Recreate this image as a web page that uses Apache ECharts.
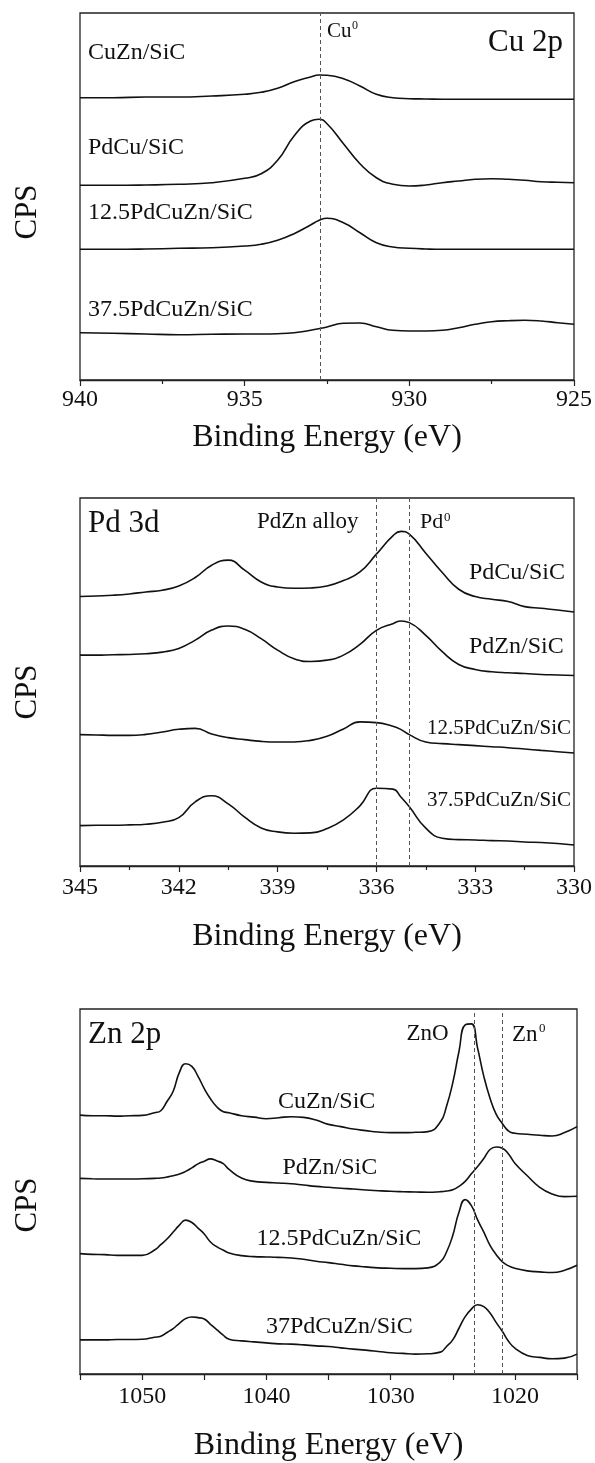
<!DOCTYPE html>
<html><head><meta charset="utf-8">
<script src="https://cdn.jsdelivr.net/npm/echarts@6/dist/echarts.min.js"></script>
<style>html,body{margin:0;padding:0;background:#fff}#c{width:595px;height:1463px}</style>
</head><body><div id="c"></div>
<script>
// ---------- Cu 2p panel ----------
const cuEnergy = [940,939,938,937,936,935,934.5,934,933.5,933,932.75,932.5,932,931.5,931,930.5,930,929.5,929,928.5,928,927.5,927,926.5,926,925.5,925];
const cuCuZn   = [282.3,282.3,283,283,284,285.7,287.7,291.7,298.3,303,305,304.7,301.3,294,285.7,282.3,281.3,281,280.7,280.7,280.7,280.7,280.7,280.7,280.7,280.7,280.7];
const cuPdCu   = [194.7,194.7,195,195.7,197.3,201.7,206.3,219.7,244,259,260.7,256.3,236.3,216.3,202.3,195.7,194,195,197.3,199,200.7,201.3,200.7,199.7,198.3,197.7,197.3];
const cu125    = [130.7,130.7,131,131.7,132.3,134,135.7,139.7,146.3,155,159.5,161.7,157.3,147.3,137.3,133,131.7,131,130.7,130.7,130.7,130.7,130.7,130.7,130.7,130.7,130.7];
const cu375    = [47.3,46.7,46,45.3,45.7,46,46,46.3,47.3,49.7,51.3,53,56.7,57,53.3,49.7,49,49,49.7,52.3,55.7,58.3,59.3,59.7,59,57.3,55.7];
const cuRefLines = [932.7];

// ---------- Pd 3d panel ----------
const pdEnergy = [345,344.5,344,343.5,343,342.5,342,341.5,341,340.5,340,339.5,339,338.5,338,337.5,337,336.5,336,335.5,335.25,335,334.5,334,333.5,333,332.5,332,331.5,331,330.5,330];
const pdPdCu   = [268.7,269.3,270,271.3,273.3,275,279.3,287.7,300,305,295,283.3,278.3,277,277.3,279.3,284.7,293.3,311,329.3,333.7,331,312,292.7,276,268.7,266,263.7,258.7,257,255.3,253.3];
const pdPdZn   = [210.3,210.3,210.7,211,211.7,213.3,217,225.3,235.3,239.3,236,226.7,215.3,206.7,204,205.3,210.3,221,235,241.7,244.3,242.7,230,213.7,201,196,193.7,192.7,192,191,190.5,190];
const pd125    = [131,130.7,130.3,130.3,131.3,133.7,136.3,137.3,131.7,128,126,124.3,123.7,123.7,125.3,129.3,136.7,143.7,143,139.3,136,131,123.7,122,121,120,119,118,116.7,115.3,114,112.7];
const pd375    = [40.3,40.7,40.7,41,41.7,43.7,48.3,64,70,62,48.7,38,34,32.7,33,37.3,46,60,77.5,76.7,68.5,59,37.7,27.7,26.3,26,25.3,25,24,23.5,22.5,21];
const pdRefLines = [336.0, 335.0];

// ---------- Zn 2p panel ----------
const znEnergy = [1055,1054,1053,1052,1051,1050,1049,
                  1048.5,1048,1047.5,1047,1046.5,1046,1045.5,1045,1044.5,1044,1043.5,1043,
                  1042,1041,1040,1039,1038,1037,1036,1035,1034,1033,1032,1031,1030,1029,1028,1027,
                  1026,1025.5,1025,1024.5,1024,1023.5,1023,1022.5,1022,1021.5,1021,1020.5,1020,
                  1019,1018,1017,1016,1015];
const znCuZn = [260.3,259.7,259.7,259.3,259.7,260,262.7,
                264.7,274,284.3,303.3,312,309.3,299.3,287,276.7,268.7,264,262.7,
                259.7,258.3,256.7,257.7,258.7,258,255.3,251,248.7,246.3,244.7,243.3,242.7,242.7,243,243.7,
                253.3,269.3,292.7,324.3,351,352,327.7,299.3,277.3,261,251.7,244.3,242,
                241,240,239.3,242.7,248.7];
const znPdZn = [196.7,196.3,196,196,196,196.3,196.7,
                197,198,199.3,201,203.7,207.3,211.3,214,216.3,214.3,211.7,205.7,
                197,193.7,192.7,192,191.3,190,188.7,187.7,186.7,186,185,184.3,183.7,183.3,183,182.7,
                183.3,184,185.3,188.7,193.7,201.3,208.7,216.7,225.7,228.3,227,221,212,
                199.3,187.7,181,178.3,178.7];
const zn125  = [121,120.3,120,119.3,119.3,119.3,124.7,
                130,135.7,142.7,149.7,154.7,152.3,146.7,140.7,132.7,128,124.7,121.7,
                119,118,117.7,117.3,116.7,115.3,113.3,112,110.3,108.7,107.7,106.7,106.3,106,106,106.7,
                112.7,122.7,139.3,162.7,175.3,169.3,155,142.7,129.3,120,112.7,108.7,106.3,
                103.7,102.7,102,104.3,109.3];
const zn37   = [34.3,34.3,34.3,34.7,34.7,35,37,
                38,41.7,45.7,51,55.7,57.3,56.7,55.3,50,44.7,39.3,35,
                33.3,32.3,31.3,30.3,30,29.3,28.3,27.7,26.3,25,24,22.7,21.3,20.7,20,20.3,
                22,27.7,34.3,46,57.7,65.3,69.7,67.7,61.3,51.7,42.7,32.7,26,
                18.7,16.7,15.3,16,20];
const znRefLines = [1023.3, 1021.0];

const FONT = "'Liberation Serif','Times New Roman',serif";
const INK = '#111';

const grids = [
  {left: 80, right: 18, top: 13, height: 367},
  {left: 80, right: 18, top: 498, height: 368},
  {left: 80, right: 18, top: 1009, height: 367}
].map(g => Object.assign({show: true, borderColor: '#222', borderWidth: 1.3, backgroundColor: 'transparent'}, g));

function xAxisCfg(idx, min, max, interval, nameGap, margin, fmt) {
  return {
    type: 'value', gridIndex: idx, inverse: true, min: min, max: max, interval: interval,
    name: 'Binding Energy (eV)', nameLocation: 'middle', nameGap: nameGap,
    nameTextStyle: {fontFamily: FONT, fontSize: 32, color: INK},
    axisLine: {show: true, lineStyle: {color: '#222', width: 1.3}},
    axisTick: {show: true, inside: false, length: 6, lineStyle: {color: '#222', width: 1.2}},
    minorTick: {show: fmt ? false : true, splitNumber: 2, length: 4, lineStyle: {color: '#222', width: 1.2}},
    splitLine: {show: false}, minorSplitLine: {show: false},
    axisLabel: {fontFamily: FONT, fontSize: 24, color: INK, margin: margin, formatter: fmt || (v => String(v))}
  };
}
function yAxisCfg(idx) {
  return {type: 'value', gridIndex: idx, min: 0, max: 367, show: false, splitLine: {show: false}};
}
function lineSeries(idx, xs, ys, name) {
  return {
    type: 'line', name: name, xAxisIndex: idx, yAxisIndex: idx,
    data: xs.map((x, i) => [x, ys[i]]), showSymbol: false, symbol: 'none',
    smooth: 0.5, lineStyle: {color: INK, width: 1.6}, silent: true, animation: false
  };
}
function refLineSeries(idx, positions) {
  return {
    type: 'line', xAxisIndex: idx, yAxisIndex: idx, data: [], silent: true, animation: false,
    markLine: {
      silent: true, symbol: ['none', 'none'], label: {show: false}, animation: false,
      lineStyle: {color: '#555', width: 1, type: [4, 3]},
      data: positions.map(p => ({xAxis: p}))
    }
  };
}

const series = [
  refLineSeries(0, cuRefLines),
  lineSeries(0, cuEnergy, cuCuZn, 'CuZn/SiC'),
  lineSeries(0, cuEnergy, cuPdCu, 'PdCu/SiC'),
  lineSeries(0, cuEnergy, cu125, '12.5PdCuZn/SiC'),
  lineSeries(0, cuEnergy, cu375, '37.5PdCuZn/SiC'),
  refLineSeries(1, pdRefLines),
  lineSeries(1, pdEnergy, pdPdCu, 'PdCu/SiC'),
  lineSeries(1, pdEnergy, pdPdZn, 'PdZn/SiC'),
  lineSeries(1, pdEnergy, pd125, '12.5PdCuZn/SiC'),
  lineSeries(1, pdEnergy, pd375, '37.5PdCuZn/SiC'),
  refLineSeries(2, znRefLines),
  lineSeries(2, znEnergy, znCuZn, 'CuZn/SiC'),
  lineSeries(2, znEnergy, znPdZn, 'PdZn/SiC'),
  lineSeries(2, znEnergy, zn125, '12.5PdCuZn/SiC'),
  lineSeries(2, znEnergy, zn37, '37PdCuZn/SiC')
];

function txt(text, x, y, size, opts) {
  opts = opts || {};
  return {
    type: 'text', x: x, y: y, rotation: opts.rotation || 0, silent: true, z: 100,
    style: {text: text, fontFamily: FONT, fontSize: size, fill: INK,
            align: opts.align || 'left', verticalAlign: 'middle'}
  };
}

const graphics = [
  // Cu 2p
  txt('Cu 2p', 488, 43, 31),
  txt('Cu', 327, 31.5, 21), txt('0', 352, 26, 12),
  txt('CuZn/SiC', 88, 52.5, 24),
  txt('PdCu/SiC', 88, 147.5, 24),
  txt('12.5PdCuZn/SiC', 88, 212.5, 24),
  txt('37.5PdCuZn/SiC', 88, 310, 24),
  txt('CPS', 27.5, 212, 31, {rotation: Math.PI / 2, align: 'center'}),
  // Pd 3d
  txt('Pd 3d', 88, 524, 31),
  txt('PdZn alloy', 257, 522, 23),
  txt('Pd', 420, 522.5, 22), txt('0', 444, 518, 13),
  txt('PdCu/SiC', 469, 572.5, 24),
  txt('PdZn/SiC', 469, 647, 24),
  txt('12.5PdCuZn/SiC', 571, 728, 21, {align: 'right'}),
  txt('37.5PdCuZn/SiC', 571, 800.5, 21, {align: 'right'}),
  txt('CPS', 27.5, 692, 31, {rotation: Math.PI / 2, align: 'center'}),
  // Zn 2p
  txt('Zn 2p', 88, 1035, 31),
  txt('ZnO', 406.5, 1033.5, 23),
  txt('Zn', 512, 1035, 23), txt('0', 539, 1029, 13),
  txt('CuZn/SiC', 278, 1101.5, 24),
  txt('PdZn/SiC', 282.5, 1167.5, 24),
  txt('12.5PdCuZn/SiC', 256.5, 1238.5, 24),
  txt('37PdCuZn/SiC', 266, 1326.5, 24),
  txt('CPS', 27.5, 1205, 31, {rotation: Math.PI / 2, align: 'center'})
];

const chart = echarts.init(document.getElementById('c'), null, {renderer: 'canvas'});
chart.setOption({
  backgroundColor: '#fff',
  animation: false,
  grid: grids,
  xAxis: [
    xAxisCfg(0, 925, 940, 5, 42, 8),
    xAxisCfg(1, 330, 345, 3, 55, 10),
    xAxisCfg(2, 1015, 1055, 5, 56, 11, v => (v % 10 === 0 ? String(v) : ''))
  ],
  yAxis: [yAxisCfg(0), yAxisCfg(1), yAxisCfg(2)],
  series: series,
  graphic: graphics
});
</script>
</body></html>
